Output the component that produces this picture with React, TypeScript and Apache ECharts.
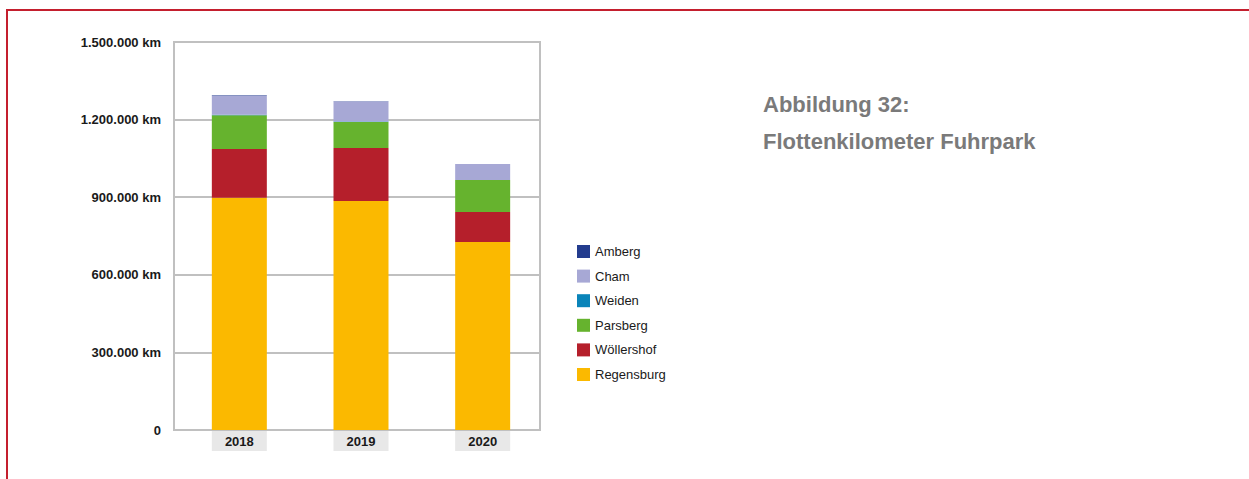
import React, { useEffect, useRef } from "react";
import * as echarts from "echarts";

const years = ["2018", "2019", "2020"];
const regensburg = [898000, 885000, 727000];
const woellershof = [188000, 205000, 116000];
const parsberg = [131000, 100500, 123700];
const weiden = [2000, 2000, 0];
const cham = [73500, 77300, 61900];
const amberg = [1500, 1500, 0];
const yTicks = [0, 300000, 600000, 900000, 1200000, 1500000];

const legendOrder = ["Amberg", "Cham", "Weiden", "Parsberg", "Wöllershof", "Regensburg"];

const fmt = (v: number) =>
  v === 0 ? "0" : v.toString().replace(/\B(?=(\d{3})+(?!\d))/g, ".") + " km";

export default function App() {
  const ref = useRef<HTMLDivElement>(null);
  useEffect(() => {
    if (!ref.current) return;
    const chart = echarts.init(ref.current, null, { renderer: "svg" });
    const font = "Liberation Sans, Arial, Helvetica, sans-serif";
    const mk = (name: string, data: number[], color: string) => ({
      name,
      type: "bar",
      stack: "total",
      xAxisIndex: 1,
      yAxisIndex: 1,
      barWidth: 55,
      data,
      itemStyle: { color },
      emphasis: { disabled: true },
    });
    chart.setOption({
      animation: false,
      textStyle: { fontFamily: font },
      grid: [
        { left: 174, right: 709, top: 42, bottom: 49, show: true, borderColor: "#c0c0c0", borderWidth: 2, backgroundColor: "transparent" },
        { left: 178.5, right: 705.5, top: 42, bottom: 49 },
      ],
      xAxis: [
        { type: "category", gridIndex: 0, data: years, show: false },
        {
          type: "category",
          gridIndex: 1,
          data: years,
          axisLine: { show: false },
          axisTick: { show: false },
          axisLabel: {
            margin: 1,
            color: "#1a1a1a",
            fontWeight: "bold",
            fontSize: 13,
            fontFamily: font,
            backgroundColor: "#e8e8e8",
            width: 55,
            height: 20,
            lineHeight: 20,
            align: "center",
            padding: 0,
          },
        },
      ],
      yAxis: [
        {
          type: "value",
          gridIndex: 0,
          min: yTicks[0],
          max: yTicks[yTicks.length - 1],
          interval: 300000,
          axisLine: { show: false },
          axisTick: { show: false },
          splitLine: { lineStyle: { color: "#c0c0c0", width: 2 } },
          axisLabel: {
            margin: 13,
            color: "#1a1a1a",
            fontWeight: "bold",
            fontSize: 13,
            fontFamily: font,
            formatter: (v: number) => fmt(v),
          },
        },
        { type: "value", gridIndex: 1, min: 0, max: 1500000, show: false },
      ],
      legend: {
        data: legendOrder,
        orient: "vertical",
        left: 572,
        top: 240,
        itemWidth: 13,
        itemHeight: 13,
        itemGap: 11.6,
        icon: "rect",
        selectedMode: false,
        textStyle: { fontSize: 13, color: "#1a1a1a", fontFamily: font },
      },
      graphic: [
        { type: "rect", shape: { x: 6, y: 9, width: 1243, height: 2 }, style: { fill: "#c41f2e" } },
        { type: "rect", shape: { x: 6, y: 9, width: 2, height: 470 }, style: { fill: "#c41f2e" } },
        {
          type: "text",
          left: 763,
          top: 93,
          style: { text: "Abbildung 32:", font: `bold 22px ${font}`, fill: "#7a7a7a" },
        },
        {
          type: "text",
          left: 763,
          top: 130,
          style: { text: "Flottenkilometer Fuhrpark", font: `bold 22px ${font}`, fill: "#7a7a7a" },
        },
      ],
      series: [
        mk("Regensburg", regensburg, "#fbb900"),
        mk("Wöllershof", woellershof, "#b51f2b"),
        mk("Parsberg", parsberg, "#66b32e"),
        mk("Weiden", weiden, "#0a84b9"),
        mk("Cham", cham, "#a7a8d5"),
        mk("Amberg", amberg, "#233c8e"),
      ],
    });
    return () => chart.dispose();
  }, []);
  return (
    <div
      ref={ref}
      style={{ position: "fixed", left: 0, top: 0, width: 1249, height: 479, background: "#fff" }}
    />
  );
}
